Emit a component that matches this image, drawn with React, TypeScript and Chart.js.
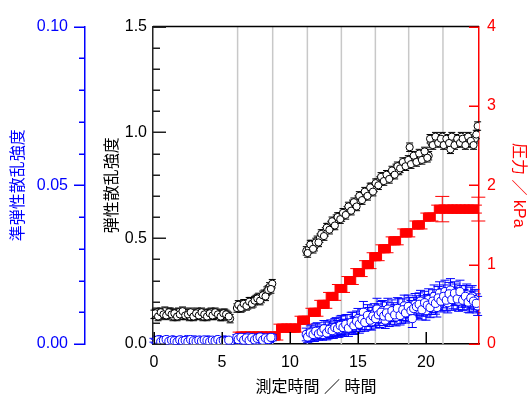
import { useEffect, useRef } from 'react';
import { Chart, registerables } from 'chart.js';
Chart.register(...registerables);

const FONT = "'Liberation Sans', 'Noto Sans CJK JP', sans-serif";

// ---- measurement times (hours) ----
const hoursA = [0.0, 0.2, 0.4, 0.6, 0.8, 1.0, 1.2, 1.4, 1.6, 1.8, 2.0, 2.2, 2.4, 2.6, 2.8, 3.0, 3.2, 3.4, 3.6, 3.8, 4.0, 4.2, 4.4, 4.6, 4.8, 5.0, 5.2, 5.4, 5.6];
const hoursA2 = [0.1, 0.3, 0.5, 0.7, 0.9, 1.1, 1.3, 1.5, 1.7, 1.9, 2.1, 2.3, 2.5, 2.7, 2.9, 3.1, 3.3, 3.5, 3.7, 3.9, 4.1, 4.3, 4.5, 4.7, 4.9, 5.1, 5.3, 5.5];
const hoursB = [6.1, 6.3, 6.5, 6.7, 6.9, 7.1, 7.3, 7.5, 7.7, 7.9, 8.1, 8.3, 8.5, 8.7];
const hoursB2 = [6.2, 6.4, 6.6, 6.8, 7.0, 7.2, 7.4, 7.6, 7.8, 8.0, 8.2, 8.4, 8.6];
const hoursC = [11.2, 11.4, 11.6, 11.8, 12.0, 12.2, 12.4, 12.6, 12.8, 13.0,
  13.2, 13.4, 13.6, 13.8, 14.0, 14.2, 14.4, 14.6, 14.8, 15.0,
  15.2, 15.4, 15.6, 15.8, 16.0, 16.2, 16.4, 16.6, 16.8, 17.0,
  17.2, 17.4, 17.6, 17.8, 18.0, 18.2, 18.4, 18.6, 18.8, 19.0,
  19.2, 19.4, 19.6, 19.8, 20.0, 20.2, 20.4, 20.6, 20.8, 21.0,
  21.2, 21.4, 21.6, 21.8, 22.0, 22.2, 22.4, 22.6, 22.8, 23.0,
  23.2, 23.4, 23.6, 23.8];
const hoursC2 = [11.3, 11.5, 11.7, 11.9, 12.1, 12.3, 12.5, 12.7, 12.9, 13.1,
  13.3, 13.5, 13.7, 13.9, 14.1, 14.3, 14.5, 14.7, 14.9, 15.1,
  15.3, 15.5, 15.7, 15.9, 16.1, 16.3, 16.5, 16.7, 16.9, 17.1,
  17.3, 17.5, 17.7, 17.9, 18.1, 18.3, 18.5, 18.7, 18.9, 19.1,
  19.3, 19.5, 19.7, 19.9, 20.1, 20.3, 20.5, 20.7, 20.9, 21.1,
  21.3, 21.5, 21.7, 21.9, 22.1, 22.3, 22.5, 22.7, 22.9, 23.1,
  23.3, 23.5, 23.7];

// ---- elastic scattering intensity (black, left inner axis) ----
const elasticA = [0.140, 0.150, 0.135, 0.145, 0.155, 0.140, 0.150, 0.130, 0.145, 0.150, 0.135, 0.150, 0.145, 0.130, 0.140, 0.135, 0.150, 0.140, 0.130, 0.145, 0.140, 0.150, 0.135, 0.145, 0.140, 0.130, 0.145, 0.135, 0.120];
const elasticA2 = [0.145, 0.130, 0.150, 0.140, 0.135, 0.150, 0.140, 0.145, 0.130, 0.140, 0.155, 0.135, 0.140, 0.150, 0.130, 0.145, 0.135, 0.150, 0.140, 0.130, 0.145, 0.135, 0.150, 0.140, 0.130, 0.145, 0.140, 0.130];
const elasticB = [0.170, 0.180, 0.175, 0.190, 0.185, 0.200, 0.195, 0.210, 0.220, 0.215, 0.235, 0.250, 0.270, 0.285];
const elasticB2 = [0.185, 0.170, 0.190, 0.180, 0.200, 0.190, 0.205, 0.215, 0.205, 0.230, 0.225, 0.255, 0.260];
const elasticC = [0.44, 0.45, 0.47, 0.46, 0.49, 0.50, 0.52, 0.53, 0.55, 0.56,
  0.57, 0.59, 0.60, 0.60, 0.62, 0.63, 0.64, 0.66, 0.66, 0.68,
  0.69, 0.70, 0.71, 0.72, 0.74, 0.74, 0.76, 0.77, 0.78, 0.79,
  0.79, 0.80, 0.81, 0.83, 0.82, 0.84, 0.85, 0.86, 0.93, 0.87,
  0.88, 0.87, 0.89, 0.88, 0.90, 0.89, 0.95, 0.96, 0.97, 0.96,
  0.98, 0.95, 0.96, 0.92, 0.97, 0.95, 0.96, 0.98, 0.96, 0.97,
  0.95, 0.96, 0.97, 1.03];
const elasticC2 = [0.43, 0.47, 0.45, 0.48, 0.48, 0.52, 0.51, 0.55, 0.54, 0.58,
  0.56, 0.60, 0.59, 0.62, 0.61, 0.65, 0.63, 0.67, 0.65, 0.70,
  0.68, 0.72, 0.70, 0.74, 0.72, 0.76, 0.75, 0.79, 0.77, 0.80,
  0.78, 0.82, 0.80, 0.84, 0.83, 0.86, 0.84, 0.87, 0.85, 0.89,
  0.86, 0.90, 0.87, 0.91, 0.88, 0.97, 0.94, 0.98, 0.95, 0.97,
  0.94, 0.97, 0.95, 0.98, 0.94, 0.97, 0.95, 0.97, 0.94, 0.98,
  0.96, 0.94, 0.99];
const elasticErr = 0.02;

// ---- quasi-elastic scattering intensity (blue, outer left axis) ----
const quasiA = [0.0012, 0.0008, 0.0014, 0.0010, 0.0006, 0.0012, 0.0009, 0.0013, 0.0011, 0.0007, 0.0012, 0.0010, 0.0014, 0.0008, 0.0011, 0.0013, 0.0009, 0.0012, 0.0007, 0.0011, 0.0013, 0.0010, 0.0008, 0.0012, 0.0009, 0.0011, 0.0013, 0.0010, 0.0006];
const quasiA2 = [0.0009, 0.0013, 0.0007, 0.0011, 0.0014, 0.0008, 0.0012, 0.0010, 0.0006, 0.0013, 0.0009, 0.0011, 0.0007, 0.0014, 0.0010, 0.0008, 0.0012, 0.0009, 0.0013, 0.0011, 0.0007, 0.0012, 0.0010, 0.0014, 0.0008, 0.0011, 0.0009, 0.0012];
const quasiB = [0.0020, 0.0012, 0.0018, 0.0010, 0.0022, 0.0014, 0.0019, 0.0011, 0.0017, 0.0021, 0.0013, 0.0018, 0.0015, 0.0020];
const quasiB2 = [0.0014, 0.0021, 0.0012, 0.0019, 0.0011, 0.0020, 0.0013, 0.0018, 0.0022, 0.0012, 0.0019, 0.0014, 0.0021];
const quasiC = [0.0030, 0.0025, 0.0038, 0.0028, 0.0042, 0.0035, 0.0030, 0.0045, 0.0038, 0.0050,
  0.0040, 0.0055, 0.0045, 0.0060, 0.0050, 0.0065, 0.0055, 0.0070, 0.0060, 0.0080,
  0.0065, 0.0100, 0.0072, 0.0085, 0.0070, 0.0095, 0.0110, 0.0080, 0.0105, 0.0075,
  0.0110, 0.0090, 0.0100, 0.0085, 0.0110, 0.0095, 0.0120, 0.0100, 0.0115, 0.0080,
  0.0125, 0.0110, 0.0135, 0.0120, 0.0105, 0.0140, 0.0125, 0.0150, 0.0115, 0.0160,
  0.0140, 0.0165, 0.0130, 0.0170, 0.0145, 0.0155, 0.0135, 0.0150, 0.0140, 0.0155,
  0.0130, 0.0150, 0.0140, 0.0120];
const quasiC2 = [0.0022, 0.0035, 0.0030, 0.0040, 0.0032, 0.0038, 0.0048, 0.0035, 0.0046, 0.0042,
  0.0052, 0.0048, 0.0058, 0.0052, 0.0062, 0.0050, 0.0068, 0.0058, 0.0072, 0.0062,
  0.0078, 0.0068, 0.0090, 0.0075, 0.0088, 0.0080, 0.0092, 0.0100, 0.0088, 0.0098,
  0.0085, 0.0105, 0.0092, 0.0112, 0.0090, 0.0108, 0.0098, 0.0118, 0.0105, 0.0112,
  0.0118, 0.0125, 0.0108, 0.0130, 0.0122, 0.0115, 0.0135, 0.0128, 0.0145, 0.0135,
  0.0150, 0.0138, 0.0158, 0.0140, 0.0160, 0.0142, 0.0165, 0.0138, 0.0150, 0.0132,
  0.0145, 0.0135, 0.0128];
const quasiErrA = 0.0006;
const quasiErrB = 0.0010;
const quasiErrC = [0.0020, 0.0018, 0.0022, 0.0020, 0.0025, 0.0020, 0.0018, 0.0024, 0.0022, 0.0026,
  0.0022, 0.0028, 0.0024, 0.0030, 0.0026, 0.0028, 0.0024, 0.0030, 0.0026, 0.0032,
  0.0026, 0.0034, 0.0028, 0.0030, 0.0026, 0.0032, 0.0034, 0.0028, 0.0032, 0.0026,
  0.0034, 0.0028, 0.0030, 0.0028, 0.0034, 0.0030, 0.0034, 0.0030, 0.0032, 0.0028,
  0.0034, 0.0030, 0.0034, 0.0032, 0.0030, 0.0034, 0.0032, 0.0036, 0.0030, 0.0036,
  0.0034, 0.0036, 0.0032, 0.0036, 0.0034, 0.0034, 0.0032, 0.0034, 0.0032, 0.0034,
  0.0032, 0.0034, 0.0032, 0.0030];
const quasiErrC2 = [0.0018, 0.0022, 0.0020, 0.0024, 0.0020, 0.0022, 0.0026, 0.0022, 0.0026, 0.0024,
  0.0028, 0.0026, 0.0030, 0.0026, 0.0030, 0.0026, 0.0032, 0.0028, 0.0032, 0.0028,
  0.0032, 0.0028, 0.0034, 0.0030, 0.0032, 0.0030, 0.0034, 0.0034, 0.0030, 0.0034,
  0.0030, 0.0034, 0.0032, 0.0034, 0.0030, 0.0034, 0.0032, 0.0036, 0.0032, 0.0034,
  0.0034, 0.0036, 0.0032, 0.0036, 0.0034, 0.0032, 0.0036, 0.0034, 0.0036, 0.0034,
  0.0036, 0.0034, 0.0036, 0.0034, 0.0036, 0.0034, 0.0036, 0.0032, 0.0034, 0.0032,
  0.0034, 0.0032, 0.0030];

// ---- pressure (red, right axis, kPa) ----
const pressureHours = [6.3, 6.6, 6.9, 7.2, 7.5, 7.8, 8.1, 8.4, 8.7, 9.0,
  9.3, 9.6, 9.9, 10.2, 10.5,
  10.85, 11.15, 11.65, 11.95, 12.3, 12.6, 12.95, 13.25, 13.6, 13.9,
  14.3, 14.55, 14.95, 15.2, 15.6, 15.85, 16.15, 16.45, 16.8, 17.1,
  17.55, 17.85, 18.4, 18.7, 19.3, 19.6, 20.1, 20.4,
  20.9, 21.2, 21.5, 21.8, 22.1, 22.4, 22.7, 23.0, 23.3, 23.6, 23.85];
const pressureKPa = [0.1, 0.1, 0.1, 0.1, 0.1, 0.1, 0.1, 0.1, 0.1, 0.1,
  0.2, 0.2, 0.2, 0.2, 0.2,
  0.3, 0.3, 0.4, 0.4, 0.5, 0.5, 0.6, 0.6, 0.7, 0.7,
  0.8, 0.8, 0.9, 0.9, 1.0, 1.0, 1.1, 1.1, 1.2, 1.2,
  1.3, 1.3, 1.4, 1.4, 1.5, 1.5, 1.6, 1.6,
  1.7, 1.7, 1.7, 1.7, 1.7, 1.7, 1.7, 1.7, 1.7, 1.7, 1.7];
const pressureErr = [0.05, 0.05, 0.05, 0.05, 0.05, 0.05, 0.05, 0.05, 0.05, 0.05,
  0.05, 0.05, 0.05, 0.05, 0.05,
  0.05, 0.05, 0.05, 0.05, 0.05, 0.05, 0.05, 0.05, 0.05, 0.05,
  0.05, 0.05, 0.05, 0.05, 0.05, 0.05, 0.05, 0.05, 0.05, 0.05,
  0.05, 0.05, 0.05, 0.05, 0.05, 0.05, 0.05, 0.05,
  0.05, 0.16, 0.05, 0.05, 0.05, 0.05, 0.05, 0.05, 0.05, 0.05, 0.15];

// ---- reference lines and ticks ----
const guideHours = [6.15, 8.73, 11.28, 13.78, 16.28, 18.73, 21.25];
const xTicks = [0, 5, 10, 15, 20];
const elasticTicks = [0, 0.5, 1.0, 1.5];
const elasticMinor = [0.1, 0.2, 0.3, 0.4, 0.6, 0.7, 0.8, 0.9, 1.1, 1.2, 1.3, 1.4];
const quasiTicks = [0, 0.05, 0.1];
const quasiMinor = [0.01, 0.02, 0.03, 0.04, 0.06, 0.07, 0.08, 0.09];
const pressureTicks = [0, 1, 2, 3, 4];

const BLUE = '#0000ff';
const RED = '#ff0000';

function hTicks(ctx: any, scale: any, values: number[], x0: number, len: number, color: string) {
  ctx.strokeStyle = color;
  ctx.lineWidth = 1.5;
  ctx.beginPath();
  for (const v of values) {
    const y = Math.round(scale.getPixelForValue(v)) + 0.25;
    ctx.moveTo(x0, y);
    ctx.lineTo(x0 + len, y);
  }
  ctx.stroke();
}

const decorPlugin = {
  id: 'decor',
  beforeDatasetsDraw(chart: any) {
    const { ctx, chartArea: ca, scales } = chart;
    ctx.save();
    ctx.strokeStyle = '#c8c8c8';
    ctx.lineWidth = 1.5;
    for (const t of guideHours) {
      const x = scales.x.getPixelForValue(t);
      ctx.beginPath();
      ctx.moveTo(x, ca.top);
      ctx.lineTo(x, ca.bottom);
      ctx.stroke();
    }
    ctx.restore();
  },
  beforeDatasetDraw(chart: any, args: any) {
    const ds = chart.data.datasets[args.index];
    const err = ds.errorBars;
    if (!err) return;
    const ys = chart.scales[ds.yAxisID];
    const ctx = chart.ctx;
    const c = ds.capHalf;
    ctx.save();
    ctx.strokeStyle = ds.errorColor;
    ctx.lineWidth = 1;
    args.meta.data.forEach((pt: any, i: number) => {
      const v = ds.data[i].y;
      const e = err[i];
      const x = pt.x;
      const y1 = ys.getPixelForValue(v + e);
      const y2 = ys.getPixelForValue(v - e);
      ctx.beginPath();
      ctx.moveTo(x, y1); ctx.lineTo(x, y2);
      ctx.moveTo(x - c, y1); ctx.lineTo(x + c, y1);
      ctx.moveTo(x - c, y2); ctx.lineTo(x + c, y2);
      ctx.stroke();
    });
    ctx.restore();
  },
  afterDatasetsDraw(chart: any) {
    const { ctx, chartArea: ca, scales } = chart;
    ctx.save();
    ctx.strokeStyle = '#000';
    ctx.lineWidth = 1.5;
    ctx.beginPath();
    ctx.moveTo(ca.left, ca.top);
    ctx.lineTo(ca.right, ca.top);
    ctx.stroke();
    hTicks(ctx, scales.y, elasticTicks, ca.left, 13, '#222');
    hTicks(ctx, scales.y, elasticMinor, ca.left, 7, '#222');
    const bx = scales.yB.right;
    hTicks(ctx, scales.yB, quasiTicks, bx, -11, BLUE);
    hTicks(ctx, scales.yB, quasiMinor, bx, -6, BLUE);
    hTicks(ctx, scales.yR, pressureTicks, ca.right, -10, RED);
    ctx.strokeStyle = '#000';
    ctx.lineWidth = 1.5;
    ctx.beginPath();
    for (const v of xTicks) {
      const x = Math.round(scales.x.getPixelForValue(v)) + 0.25;
      ctx.moveTo(x, ca.bottom);
      ctx.lineTo(x, ca.bottom - 12);
    }
    ctx.stroke();
    ctx.restore();
  },
};

function pts(xs: number[], ys: number[]) {
  return xs.map((x, i) => ({ x, y: ys[i] }));
}

export default function App() {
  const ref = useRef<HTMLCanvasElement | null>(null);
  useEffect(() => {
    if (!ref.current) return;
    const allHours = [...hoursA, ...hoursA2, ...hoursB, ...hoursB2, ...hoursC, ...hoursC2];
    const elastic = [...elasticA, ...elasticA2, ...elasticB, ...elasticB2, ...elasticC, ...elasticC2];
    const quasi = [...quasiA, ...quasiA2, ...quasiB, ...quasiB2, ...quasiC, ...quasiC2];
    const quasiErr = [
      ...hoursA.map(() => quasiErrA), ...hoursA2.map(() => quasiErrA),
      ...hoursB.map(() => quasiErrB), ...hoursB2.map(() => quasiErrB),
      ...quasiErrC, ...quasiErrC2,
    ];
    const font = { family: FONT, size: 16 };
    const chart = new Chart(ref.current, {
      type: 'scatter',
      data: {
        datasets: [
          {
            label: '弾性散乱強度',
            data: pts(allHours, elastic),
            yAxisID: 'y',
            pointStyle: 'circle',
            pointRadius: 3.6,
            pointBorderWidth: 1,
            pointBackgroundColor: '#fff',
            pointBorderColor: '#000',
            errorBars: allHours.map(() => elasticErr),
            errorColor: '#000',
            capHalf: 3.5,
          } as any,
          {
            label: '準弾性散乱強度',
            data: pts(allHours, quasi),
            yAxisID: 'yB',
            pointStyle: 'circle',
            pointRadius: 4.1,
            pointBorderWidth: 1,
            pointBackgroundColor: '#fff',
            pointBorderColor: BLUE,
            errorBars: quasiErr,
            errorColor: BLUE,
            capHalf: 4.5,
          } as any,
          {
            label: '圧力',
            data: pts(pressureHours, pressureKPa),
            yAxisID: 'yR',
            pointStyle: 'rect',
            pointRadius: 5.5,
            pointBorderWidth: 1,
            pointBackgroundColor: RED,
            pointBorderColor: RED,
            errorBars: pressureErr,
            errorColor: RED,
            capHalf: 7,
          } as any,
        ],
      },
      options: {
        responsive: false,
        animation: false,
        events: [],
        layout: { padding: { top: 17, left: 0, right: 0, bottom: 0 } },
        plugins: { legend: { display: false }, tooltip: { enabled: false } },
        scales: {
          x: {
            type: 'linear',
            position: 'bottom',
            min: -0.07,
            max: 23.9,
            afterBuildTicks: (s: any) => { s.ticks = xTicks.map((v) => ({ value: v })); },
            afterFit: (s: any) => { s.height = 54; },
            ticks: { font, color: '#000', padding: 9, maxRotation: 0, autoSkip: false, callback: (v: any) => String(v) },
            grid: { display: true, drawOnChartArea: false, drawTicks: false },
            border: { display: true, color: '#000', width: 1.5 },
            title: { display: true, text: '測定時間 ／ 時間', font, color: '#000', padding: { top: 0, bottom: 1 } },
          },
          y: {
            type: 'linear',
            position: 'left',
            weight: 0,
            min: 0,
            max: 1.5,
            afterBuildTicks: (s: any) => { s.ticks = elasticTicks.map((v) => ({ value: v })); },
            afterFit: (s: any) => { s.width = 68; },
            ticks: { font, color: '#000', padding: 6, autoSkip: false, callback: (v: any) => Number(v).toFixed(1) },
            grid: { display: true, drawOnChartArea: false, drawTicks: false },
            border: { display: true, color: '#222', width: 1.5 },
            title: { display: true, text: '弾性散乱強度', font, color: '#000', padding: { top: 18, bottom: 0 } },
          },
          yB: {
            type: 'linear',
            position: 'left',
            weight: 1,
            min: 0,
            max: 0.1,
            afterBuildTicks: (s: any) => { s.ticks = quasiTicks.map((v) => ({ value: v })); },
            afterFit: (s: any) => { s.width = 85; },
            ticks: { font, color: BLUE, padding: 17, autoSkip: false, callback: (v: any) => Number(v).toFixed(2) },
            grid: { display: true, drawOnChartArea: false, drawTicks: false },
            border: { display: true, color: BLUE, width: 1.5 },
            title: { display: true, text: '準弾性散乱強度', font, color: BLUE, padding: { top: 9, bottom: 0 } },
          },
          yR: {
            type: 'linear',
            position: 'right',
            min: 0,
            max: 4,
            afterBuildTicks: (s: any) => { s.ticks = pressureTicks.map((v) => ({ value: v })); },
            afterFit: (s: any) => { s.width = 52; },
            ticks: { font, color: RED, padding: 8, autoSkip: false, callback: (v: any) => String(v) },
            grid: { display: true, drawOnChartArea: false, drawTicks: false },
            border: { display: true, color: RED, width: 1.5 },
            title: { display: true, text: '圧力 ／ kPa', font, color: RED, padding: { top: 3, bottom: 0 } },
          },
        },
      } as any,
      plugins: [decorPlugin as any],
    });
    return () => chart.destroy();
  }, []);
  return (
    <div style={{ position: 'fixed', left: 0, top: 0, width: 531, height: 398, background: '#fff' }}>
      <canvas ref={ref} width={531} height={398} style={{ display: 'block' }} />
    </div>
  );
}
